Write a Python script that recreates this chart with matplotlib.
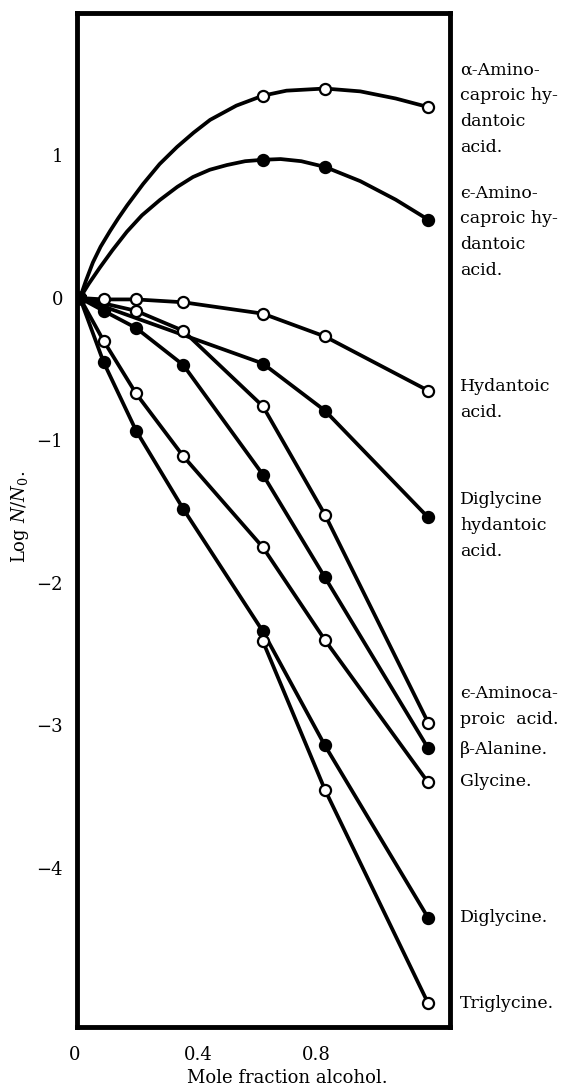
import matplotlib
matplotlib.use("Agg")
import matplotlib.pyplot as plt

plt.rcParams['font.family'] = ['DejaVu Serif']
plt.rcParams['mathtext.fontset'] = 'dejavuserif'

# mole fraction alcohol at the measured points
x_pts = [0, 0.08, 0.19, 0.35, 0.62, 0.83, 1.18]

# log N/N0
alpha_hyd = [0, 1.42, 1.47, 1.34]          # x_pts[0,4,5,6]
eps_hyd = [0, 0.97, 0.92, 0.55]            # x_pts[0,4,5,6]
hydantoic = [0, -0.01, -0.01, -0.03, -0.11, -0.27, -0.65]
diglycine_hyd = [0, -0.46, -0.79, -1.54]   # x_pts[0,4,5,6]
eps_amino = [0, -0.09, -0.23, -0.76, -1.52, -2.98]  # x_pts[0,2..6]
beta_ala = [0, -0.09, -0.21, -0.47, -1.24, -1.96, -3.16]
glycine = [0, -0.30, -0.67, -1.11, -1.75, -2.40, -3.40]
diglycine = [0, -0.45, -0.93, -1.48, -2.34, -3.14, -4.35]
triglycine = [-2.41, -3.45, -4.95]         # x_pts[4,5,6]

# smooth curves of the two hydantoic acids
alpha_curve_x = [0, 0.02, 0.044, 0.07, 0.102, 0.13, 0.16, 0.214, 0.27, 0.329,
                 0.385, 0.441, 0.53, 0.62, 0.70, 0.83, 0.95, 1.07, 1.18]
alpha_curve_y = [0, 0.12, 0.25, 0.36, 0.47, 0.56, 0.65, 0.80, 0.94, 1.06,
                 1.16, 1.25, 1.35, 1.42, 1.455, 1.47, 1.45, 1.40, 1.34]
eps_curve_x = [0, 0.03, 0.068, 0.11, 0.159, 0.21, 0.271, 0.33, 0.383, 0.44,
               0.498, 0.56, 0.62, 0.68, 0.75, 0.83, 0.95, 1.07, 1.18]
eps_curve_y = [0, 0.10, 0.215, 0.335, 0.465, 0.58, 0.688, 0.78, 0.849, 0.90,
               0.933, 0.96, 0.97, 0.975, 0.96, 0.92, 0.82, 0.69, 0.55]

labels = [
    (["\u03b1-Amino-", "caproic hy-", "dantoic", "acid."], 70),
    (["\u03f5-Amino-", "caproic hy-", "dantoic", "acid."], 193),
    (["Hydantoic", "acid."], 387),
    (["Diglycine", "hydantoic", "acid."], 500),
    (["\u03f5-Aminoca-", "proic  acid."], 694),
    (["\u03b2-Alanine."], 749),
    (["Glycine."], 781),
    (["Diglycine."], 918),
    (["Triglycine."], 1003),
]

W, H = 575, 1090
fig = plt.figure(figsize=(W / 100, H / 100), dpi=100)
ax = fig.add_axes([77 / W, 1 - 1027 / H, (450 - 77) / W, (1027 - 13) / H])

line_kw = dict(color='black', lw=2.7, solid_capstyle='round',
               solid_joinstyle='round', zorder=2)
open_kw = dict(ls='none', marker='o', ms=8, mfc='white', mec='black', mew=1.6, zorder=3)
fill_kw = dict(ls='none', marker='o', ms=8, mfc='black', mec='black', mew=1.6, zorder=3)

def sel(idx):
    return [x_pts[i] for i in idx]

# upper curves
ax.plot(alpha_curve_x, alpha_curve_y, **line_kw)
ax.plot(sel([0, 4, 5, 6]), alpha_hyd, **open_kw)
ax.plot(eps_curve_x, eps_curve_y, **line_kw)
ax.plot(sel([0, 4, 5, 6]), eps_hyd, **fill_kw)

series = [
    (x_pts, hydantoic, open_kw),
    (sel([0, 4, 5, 6]), diglycine_hyd, fill_kw),
    (sel([0, 2, 3, 4, 5, 6]), eps_amino, open_kw),
    (x_pts, beta_ala, fill_kw),
    (x_pts, glycine, open_kw),
    (x_pts, diglycine, fill_kw),
    (sel([4, 5, 6]), triglycine, open_kw),
]
for xs, ys, mk in series:
    ax.plot(xs, ys, **line_kw)
    ax.plot(xs, ys, **mk)

ax.set_xlim(-0.01, 1.254)
ax.set_ylim(-5.116, 2.0)

for s in ax.spines.values():
    s.set_linewidth(3.5)

ax.set_xticks([0, 0.4, 0.8])
ax.set_xticklabels(['0', '0.4', '0.8'])
ax.set_yticks([1, 0, -1, -2, -3, -4])
ax.set_yticklabels(['1', '0', '\u22121', '\u22122', '\u22123', '\u22124'])
ax.tick_params(length=0, labelsize=13)
ax.tick_params(axis='x', pad=14)
ax.tick_params(axis='y', pad=10)
ax.get_xticklabels()[0].set_horizontalalignment('right')

fig.text(287 / W, 1 - 1078 / H, 'Mole fraction alcohol.', fontsize=13,
         ha='center', va='center')
fig.text(20 / W, 1 - 517 / H, 'Log $N/N_0$.', fontsize=13, rotation=90,
         ha='center', va='center')

for lines, y0 in labels:
    for i, t in enumerate(lines):
        fig.text(460 / W, 1 - (y0 + i * 25.8) / H, t, fontsize=12.5,
                 ha='left', va='center')

fig.savefig('out.png', dpi=100)
